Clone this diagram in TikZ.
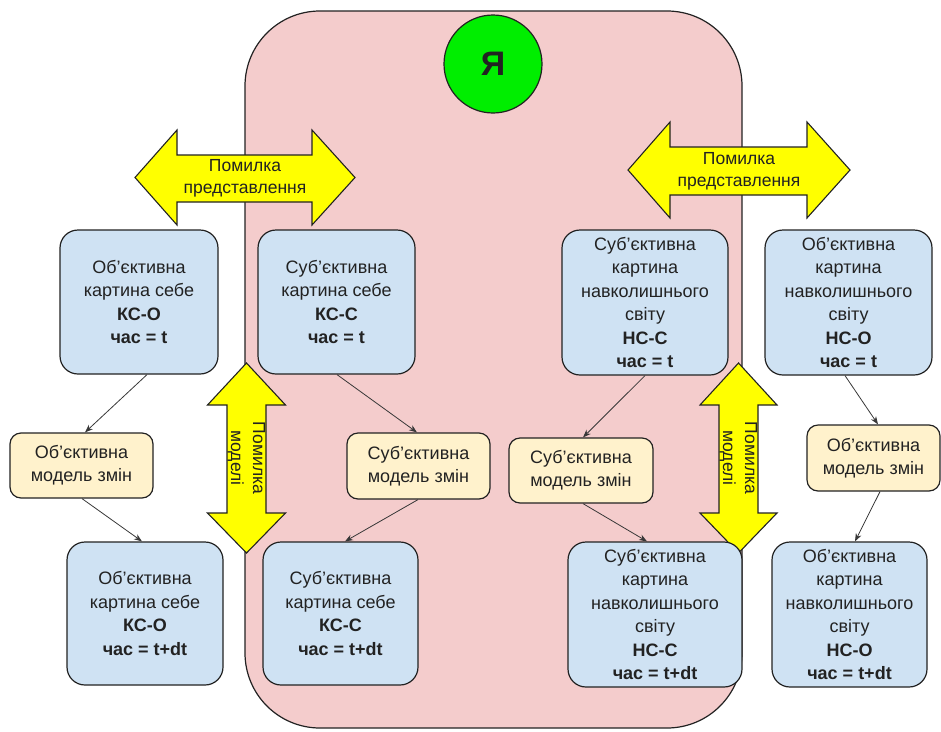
\documentclass[tikz,border=0pt]{standalone}
\usepackage{fontspec}
\setmainfont{Liberation Sans}
\usetikzlibrary{arrows.meta}
\definecolor{selfpink}{HTML}{F4CCCC}
\definecolor{picblue}{HTML}{CFE2F3}
\definecolor{modelcream}{HTML}{FFF2CC}
\definecolor{egogreen}{HTML}{00EE00}
\definecolor{erryellow}{HTML}{FFFF00}
\definecolor{ink}{HTML}{222222}
\tikzset{
  picbox/.style={draw=ink, line width=1.2pt, fill=picblue, rounded corners=18pt,
    align=center, inner sep=0pt, text=ink, font=\fontsize{18}{23.5}\selectfont},
  modelbox/.style={draw=ink, line width=1.2pt, fill=modelcream, rounded corners=11pt,
    align=center, inner sep=0pt, text=ink, font=\fontsize{18}{23}\selectfont},
  errarrow/.style={draw=ink, line width=1.1pt, fill=erryellow, line join=miter},
  errlabel/.style={align=center, inner sep=0pt, text=ink, font=\fontsize{17.5}{22}\selectfont},
  flow/.style={draw=ink!90, line width=0.8pt, -{Stealth[length=8pt,width=6pt]}},
}
\begin{document}
\begin{tikzpicture}[x=1pt,y=-1pt]
\useasboundingbox (0,0) rectangle (941,731);

% the self area
\draw[draw=ink, line width=1.2pt, fill=selfpink, rounded corners=75pt]
  (245,11) rectangle (742,728);
\node[circle, draw=ink, line width=1.2pt, fill=egogreen, minimum size=98pt, inner sep=0pt,
  font=\fontsize{34}{34}\selectfont\bfseries, text=ink] (ego) at (493,64) {Я};

% representation errors (horizontal double arrows)
\draw[errarrow] (135,177.5) -- (177,130) -- (177,155) -- (312,155) -- (312,130) -- (355,177.5)
  -- (312,225) -- (312,202) -- (177,202) -- (177,225) -- cycle;
\node[errlabel] (repL) at (245,178) {Помилка\\представлення};
\draw[errarrow] (628,170) -- (670,122) -- (670,147) -- (807,147) -- (807,122) -- (850,170)
  -- (807,218) -- (807,195) -- (670,195) -- (670,218) -- cycle;
\node[errlabel] (repR) at (739,171) {Помилка\\представлення};

% model errors (vertical double arrows)
\draw[errarrow] (246.5,363) -- (285.5,405) -- (266,405) -- (266,513) -- (285.5,513) -- (246.5,553)
  -- (207.5,513) -- (227,513) -- (227,405) -- (207.5,405) -- cycle;
\node[errlabel, rotate=-90] (modL) at (246.5,458) {Помилка\\моделі};
\draw[errarrow] (738.5,363) -- (777,405) -- (758,405) -- (758,513) -- (777,513) -- (738.5,553)
  -- (700,513) -- (719,513) -- (719,405) -- (700,405) -- cycle;
\node[errlabel, rotate=-90] (modR) at (738.5,458) {Помилка\\моделі};

% pictures at time t
\node[picbox, minimum width=158pt, minimum height=144pt] (b1) at (139,302)
  {Об’єктивна\\картина себе\\\textbf{КС-О}\\\textbf{час = t}};
\node[picbox, minimum width=157pt, minimum height=144pt] (b2) at (336.5,302)
  {Суб’єктивна\\картина себе\\\textbf{КС-С}\\\textbf{час = t}};
\node[picbox, minimum width=166pt, minimum height=145pt] (b3) at (645,302.5)
  {Суб’єктивна\\картина\\навколишнього\\світу\\\textbf{НС-С}\\\textbf{час = t}};
\node[picbox, minimum width=167pt, minimum height=145pt] (b4) at (848.5,302.5)
  {Об’єктивна\\картина\\навколишнього\\світу\\\textbf{НС-О}\\\textbf{час = t}};

% change models
\node[modelbox, minimum width=143pt, minimum height=65pt] (m1) at (81.5,465.5)
  {Об’єктивна\\модель змін};
\node[modelbox, minimum width=143pt, minimum height=66pt] (m2) at (418.5,466)
  {Суб’єктивна\\модель змін};
\node[modelbox, minimum width=144pt, minimum height=65pt] (m3) at (581,470.5)
  {Суб’єктивна\\модель змін};
\node[modelbox, minimum width=133pt, minimum height=66pt] (m4) at (873.5,458)
  {Об’єктивна\\модель змін};

% pictures at time t+dt
\node[picbox, minimum width=156pt, minimum height=143pt] (b5) at (145,613.5)
  {Об’єктивна\\картина себе\\\textbf{КС-О}\\\textbf{час = t+dt}};
\node[picbox, minimum width=155pt, minimum height=143pt] (b6) at (340.5,613.5)
  {Суб’єктивна\\картина себе\\\textbf{КС-С}\\\textbf{час = t+dt}};
\node[picbox, minimum width=174pt, minimum height=145pt] (b7) at (655,614.5)
  {Суб’єктивна\\картина\\навколишнього\\світу\\\textbf{НС-С}\\\textbf{час = t+dt}};
\node[picbox, minimum width=155pt, minimum height=145pt] (b8) at (849.5,614.5)
  {Об’єктивна\\картина\\навколишнього\\світу\\\textbf{НС-О}\\\textbf{час = t+dt}};

% transitions
\draw[flow] ([xshift=8pt]b1.south) -- ([xshift=3.5pt]m1.north);
\draw[flow] ([xshift=0.5pt]m1.south) -- ([xshift=-3pt]b5.north);
\draw[flow] ([xshift=0.5pt]b2.south) -- ([xshift=-1.5pt]m2.north);
\draw[flow] ([xshift=-0.5pt]m2.south) -- ([xshift=4.5pt]b6.north);
\draw[flow] ([xshift=0pt]b3.south) -- ([xshift=2pt]m3.north);
\draw[flow] ([xshift=2pt]m3.south) -- ([xshift=-8pt]b7.north);
\draw[flow] ([xshift=-3.5pt]b4.south) -- ([xshift=4.5pt]m4.north);
\draw[flow] ([xshift=6.5pt]m4.south) -- ([xshift=5.5pt]b8.north);
\end{tikzpicture}
\end{document}
